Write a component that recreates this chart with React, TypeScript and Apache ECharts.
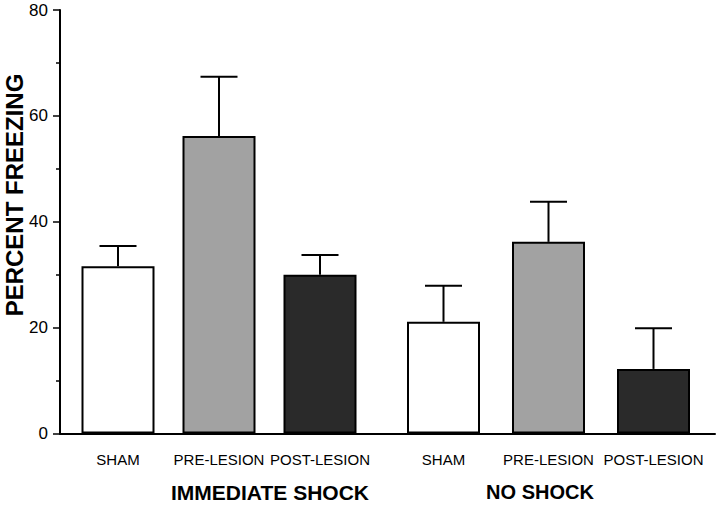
import React, { useEffect, useRef } from "react";
import * as echarts from "echarts";

const conditions = ["SHAM", "PRE-LESION", "POST-LESION"];
const groupNames = ["IMMEDIATE SHOCK", "NO SHOCK"];
const immediateMeans = [31.6, 56.2, 30.0];
const immediateErrs = [3.8, 11.2, 3.7];
const noShockMeans = [21.1, 36.2, 12.2];
const noShockErrs = [6.8, 7.6, 7.7];
const yTicks = [0, 20, 40, 60, 80];
const yTitle = "PERCENT FREEZING";

const barColors = ["#ffffff", "#a2a2a2", "#2a2a2a"];
const FONT = "Liberation Sans";

function errorRender(params: any, api: any) {
  const i = api.value(0);
  const m = api.value(1);
  const e = api.value(2);
  const base = api.coord([i, m]);
  const top = api.coord([i, m + e]);
  const st = { stroke: "#000", lineWidth: 2 };
  return {
    type: "group",
    children: [
      { type: "line", shape: { x1: base[0], y1: base[1], x2: top[0], y2: top[1] }, style: st },
      { type: "line", shape: { x1: top[0] - 18.5, y1: top[1], x2: top[0] + 18.5, y2: top[1] }, style: st },
    ],
  };
}

export default function App() {
  const ref = useRef<HTMLDivElement>(null);
  useEffect(() => {
    document.body.style.margin = "0";
    const chart = echarts.init(ref.current!, null, { renderer: "svg" });
    const yMin = yTicks[0];
    const yMax = yTicks[yTicks.length - 1];
    const yInt = yTicks[1] - yTicks[0];
    const hiddenY = (gi: number) => ({
      type: "value",
      gridIndex: gi,
      min: yMin,
      max: yMax,
      interval: yInt,
      show: false,
    });
    const catX = (gi: number) => ({
      type: "category",
      gridIndex: gi,
      data: conditions,
      axisLine: { show: false },
      axisTick: { show: false },
      axisLabel: { color: "#000", fontSize: 15, fontFamily: FONT, margin: 18, interval: 0, hideOverlap: false },
    });
    const barData = (means: number[]) =>
      means.map((v, i) => ({
        value: v,
        itemStyle: { color: barColors[i], borderColor: "#000", borderWidth: 2 },
      }));
    const errData = (means: number[], errs: number[]) => means.map((v, i) => [i, v, errs[i]]);

    chart.setOption({
      animation: false,
      backgroundColor: "#fff",
      textStyle: { fontFamily: FONT },
      grid: [
        { left: 60, right: 5, top: 10, bottom: 76.5 },
        { left: 67.5, width: 303, top: 10, bottom: 76.5 },
        { left: 391, width: 315, top: 10, bottom: 76.5 },
      ],
      xAxis: [
        {
          type: "value",
          gridIndex: 0,
          min: 0,
          max: 1,
          axisLine: { show: true, onZero: false, lineStyle: { color: "#000", width: 2 } },
          axisTick: { show: false },
          axisLabel: { show: false },
          splitLine: { show: false },
        },
        catX(1),
        catX(2),
      ],
      yAxis: [
        {
          type: "value",
          gridIndex: 0,
          min: yMin,
          max: yMax,
          interval: yInt,
          axisLine: { show: true, lineStyle: { color: "#000", width: 2 } },
          axisTick: { show: true, length: 7, lineStyle: { color: "#000", width: 1.5 } },
          minorTick: { show: true, splitNumber: 2, length: 4, lineStyle: { color: "#000", width: 1.5 } },
          axisLabel: { color: "#000", fontSize: 17, fontFamily: FONT, margin: 12 },
          splitLine: { show: false },
        },
        hiddenY(1),
        hiddenY(2),
      ],
      graphic: [
        {
          type: "text",
          x: 14,
          y: 195,
          rotation: Math.PI / 2,
          style: {
            text: yTitle,
            fontSize: 24,
            fontWeight: "bold",
            fontFamily: FONT,
            fill: "#000",
            textAlign: "center",
            textVerticalAlign: "middle",
          },
        },
        {
          type: "text",
          x: 270,
          y: 492,
          style: {
            text: groupNames[0],
            fontSize: 21,
            fontWeight: "bold",
            fontFamily: FONT,
            fill: "#000",
            textAlign: "center",
            textVerticalAlign: "middle",
          },
        },
        {
          type: "text",
          x: 540,
          y: 492,
          style: {
            text: groupNames[1],
            fontSize: 20,
            fontWeight: "bold",
            fontFamily: FONT,
            fill: "#000",
            textAlign: "center",
            textVerticalAlign: "middle",
          },
        },
      ],
      series: [
        {
          type: "bar",
          xAxisIndex: 1,
          yAxisIndex: 1,
          barWidth: 73,
          data: barData(immediateMeans),
          z: 2,
        },
        {
          type: "bar",
          xAxisIndex: 2,
          yAxisIndex: 2,
          barWidth: 73,
          data: barData(noShockMeans),
          z: 2,
        },
        {
          type: "custom",
          xAxisIndex: 1,
          yAxisIndex: 1,
          renderItem: errorRender,
          encode: { x: 0, y: 1 },
          data: errData(immediateMeans, immediateErrs),
          z: 3,
        },
        {
          type: "custom",
          xAxisIndex: 2,
          yAxisIndex: 2,
          renderItem: errorRender,
          encode: { x: 0, y: 1 },
          data: errData(noShockMeans, noShockErrs),
          z: 3,
        },
      ],
    });
    return () => chart.dispose();
  }, []);
  return <div ref={ref} style={{ width: 720, height: 510 }} />;
}
